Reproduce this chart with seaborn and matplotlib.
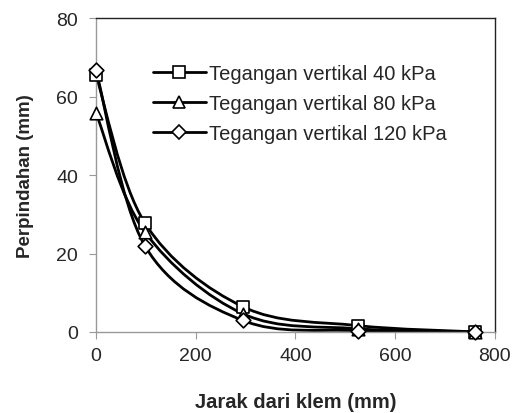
import numpy as np
import pandas as pd
import matplotlib
matplotlib.use('Agg')
import matplotlib.pyplot as plt
import seaborn as sns
from matplotlib.path import Path
from matplotlib.patches import PathPatch
from matplotlib.lines import Line2D

# distance from clamp (mm) and displacement (mm) per vertical stress
jarak = [0, 98, 295, 525, 760]
kpa_40 = [65.6, 27.8, 6.4, 1.6, 0.0]
kpa_80 = [55.9, 25.5, 4.6, 0.8, 0.0]
kpa_120 = [66.9, 22.0, 2.9, 0.3, 0.0]
labels = ['Tegangan vertikal 40 kPa', 'Tegangan vertikal 80 kPa', 'Tegangan vertikal 120 kPa']
markers = ['s', '^', 'D']
msizes = [9, 9, 7.5]

sns.set_theme(style='white')
plt.rcParams['font.family'] = ['Liberation Sans', 'DejaVu Sans']


def smooth_path(x, y):
    '''Catmull-Rom style Bezier through the points (like Excel smoothed lines).'''
    p = np.column_stack([x, y]).astype(float)
    ext = np.vstack([p[0], p, p[-1]])
    verts = [p[0]]
    codes = [Path.MOVETO]
    for i in range(len(p) - 1):
        p0, p1, p2, p3 = ext[i], ext[i + 1], ext[i + 2], ext[i + 3]
        verts += [p1 + (p2 - p0) / 6, p2 - (p3 - p1) / 6, p2]
        codes += [Path.CURVE4] * 3
    return Path(verts, codes)


df = pd.DataFrame({'jarak': jarak * 3,
                   'perpindahan': kpa_40 + kpa_80 + kpa_120,
                   'seri': [labels[0]] * 5 + [labels[1]] * 5 + [labels[2]] * 5})

fig, ax = plt.subplots(figsize=(5.16, 4.14), dpi=100)
fig.subplots_adjust(left=0.186, right=0.959, bottom=0.196, top=0.953)

for lab in labels:
    d = df[df['seri'] == lab]
    ax.add_patch(PathPatch(smooth_path(d['jarak'], d['perpindahan']), fill=False,
                           edgecolor='black', lw=2.0, zorder=2))

for lab, m, ms in zip(labels, markers, msizes):
    d = df[df['seri'] == lab]
    sns.scatterplot(data=d, x='jarak', y='perpindahan', marker=m, s=ms ** 2,
                    color='white', edgecolor='black', linewidth=1.2, zorder=3, ax=ax, legend=False)

ax.set_xlim(0, 800)
ax.set_ylim(0, 80)
ax.set_xticks([0, 200, 400, 600, 800])
ax.set_yticks([0, 20, 40, 60, 80])
ax.tick_params(axis='both', direction='out', length=5, width=0.8, color='#999999',
               labelsize=14, bottom=True, left=True)
ax.tick_params(axis='y', pad=8)
ax.tick_params(axis='x', pad=6)
for side in ['left', 'bottom']:
    ax.spines[side].set_color('#999999')
    ax.spines[side].set_linewidth(1.0)
for side in ['top', 'right']:
    ax.spines[side].set_color('#222222')
    ax.spines[side].set_linewidth(1.0)
for coll in ax.collections:
    coll.set_clip_on(False)

ax.set_xlabel('Jarak dari klem (mm)', fontsize=14.5, fontweight='bold', labelpad=20)
ax.set_ylabel('Perpindahan (mm)', fontsize=13.5, fontweight='bold', labelpad=16)

handles = [Line2D([0], [0], color='black', lw=2.0, marker=m, markersize=ms,
                  markerfacecolor='white', markeredgecolor='black', markeredgewidth=1.2)
           for m, ms in zip(markers, msizes)]
ax.legend(handles, labels, loc='upper left', bbox_to_anchor=(0.098, 0.912), frameon=False,
          fontsize=14.5, handlelength=2.6, handletextpad=0.15, labelspacing=0.55)

fig.savefig('out.png', dpi=100)
